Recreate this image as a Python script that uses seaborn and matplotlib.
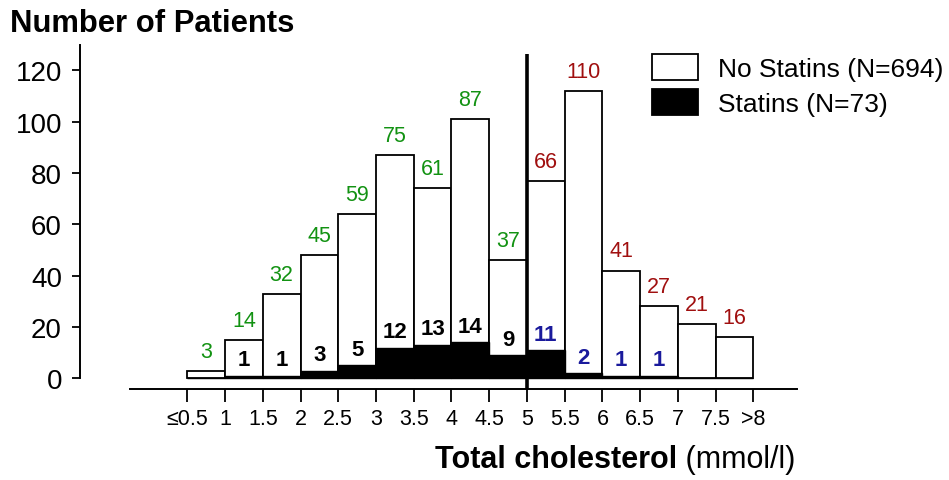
import numpy as np
import pandas as pd
import matplotlib
matplotlib.use("Agg")
import matplotlib.pyplot as plt
import seaborn as sns
from matplotlib.patches import Patch

# ---- data ----
bin_left = [0.5, 1.0, 1.5, 2.0, 2.5, 3.0, 3.5, 4.0, 4.5, 5.0, 5.5, 6.0, 6.5, 7.0, 7.5]
no_statins = [3, 14, 32, 45, 59, 75, 61, 87, 37, 66, 110, 41, 27, 21, 16]
statins = [0, 1, 1, 3, 5, 12, 13, 14, 9, 11, 2, 1, 1, 0, 0]
tick_pos = [0.5, 1, 1.5, 2, 2.5, 3, 3.5, 4, 4.5, 5, 5.5, 6, 6.5, 7, 7.5, 8]
tick_labels = ["≤0.5", "1", "1.5", "2", "2.5", "3", "3.5", "4", "4.5", "5",
               "5.5", "6", "6.5", "7", "7.5", ">8"]
legend_labels = ["No Statins (N=694)", "Statins (N=73)"]
threshold = 5.0

sns.set_style("ticks")
plt.rcParams["font.family"] = ["Liberation Sans", "DejaVu Sans"]
for k in ("text.color", "axes.labelcolor", "xtick.color", "ytick.color",
          "axes.edgecolor"):
    plt.rcParams[k] = "black"

width = 0.5
edges = bin_left + [bin_left[-1] + width]
mids = [b + width / 2 for b in bin_left]
total = [a + b for a, b in zip(no_statins, statins)]
df = pd.DataFrame({"mid": mids, "total": total, "statins": statins,
                   "left": bin_left})

W, H = 949, 481
fig = plt.figure(figsize=(W / 100, H / 100), dpi=100)
ax = fig.add_axes([80 / W, 91 / H, 716.7 / W, 343.3 / H])

sns.histplot(data=df, x="mid", weights="total", bins=edges, ax=ax,
             color="white", edgecolor="black", linewidth=1.3, alpha=1)
sns.histplot(data=df, x="mid", weights="statins", bins=edges, ax=ax,
             color="black", edgecolor="black", linewidth=1.0, alpha=1)

ymin = -4.17
ax.set_xlim(-0.922, 8.575)
ax.set_ylim(ymin, 129.6)

# threshold line
ax.vlines(threshold, ymin, 126.4, color="black", linewidth=2.6, clip_on=False, zorder=5)

GREEN = "#129212"
RED = "#a00f0f"
BLUE = "#1a1a9c"
for m, t, s, l in zip(mids, no_statins, statins, bin_left):
    tot = t + s
    ax.annotate(str(t), xy=(m, tot), xytext=(0, 6.5), textcoords="offset points",
                ha="center", va="bottom", fontsize=15.5,
                color=GREEN if l < threshold else RED)
    if s > 0:
        ax.annotate(str(s), xy=(m, s), xytext=(0, 4), textcoords="offset points",
                    ha="center", va="bottom", fontsize=16, fontweight="bold",
                    color="black" if l < threshold else BLUE)

ax.set_xticks(tick_pos)
ax.set_xticklabels(tick_labels)
ax.set_yticks(range(0, 121, 20))
ax.tick_params(axis="x", length=9.5, width=1.3, labelsize=15.5, pad=4,
               direction="out", colors="black")
ax.tick_params(axis="y", length=6, width=1.3, labelsize=20, pad=7,
               direction="out", colors="black")
ax.set_xlabel("")
ax.set_ylabel("")

sns.despine(ax=ax)
ax.spines["left"].set_bounds(0, 130)
ax.spines["bottom"].set_bounds(-0.26, 8.575)
ax.spines["bottom"].set_position(("data", ymin))
for sp in ("left", "bottom"):
    ax.spines[sp].set_linewidth(1.4)
    ax.spines[sp].set_color("black")

fig.text(10 / W, 1 - 31.7 / H, "Number of Patients", fontsize=22.3,
         fontweight="bold", va="baseline", ha="left", color="black")
t1 = fig.text(435 / W, 1 - 468 / H, "Total cholesterol", fontsize=22,
              fontweight="bold", va="baseline", ha="left", color="black")
ax.annotate(" (mmol/l)", xy=(1, 0), xycoords=t1, va="bottom", ha="left",
            fontsize=22, color="black")

handles = [Patch(facecolor="white", edgecolor="black", linewidth=1.3),
           Patch(facecolor="black", edgecolor="black", linewidth=1.3)]
fig.legend(handles, legend_labels, loc="upper left",
           bbox_to_anchor=(651.7 / W, 1 - 55 / H), frameon=False, fontsize=19,
           handlelength=1.77, handleheight=1.12, handletextpad=0.76,
           labelspacing=0.32, borderpad=0, borderaxespad=0,
           labelcolor="black")

fig.savefig("out.png", dpi=100)
